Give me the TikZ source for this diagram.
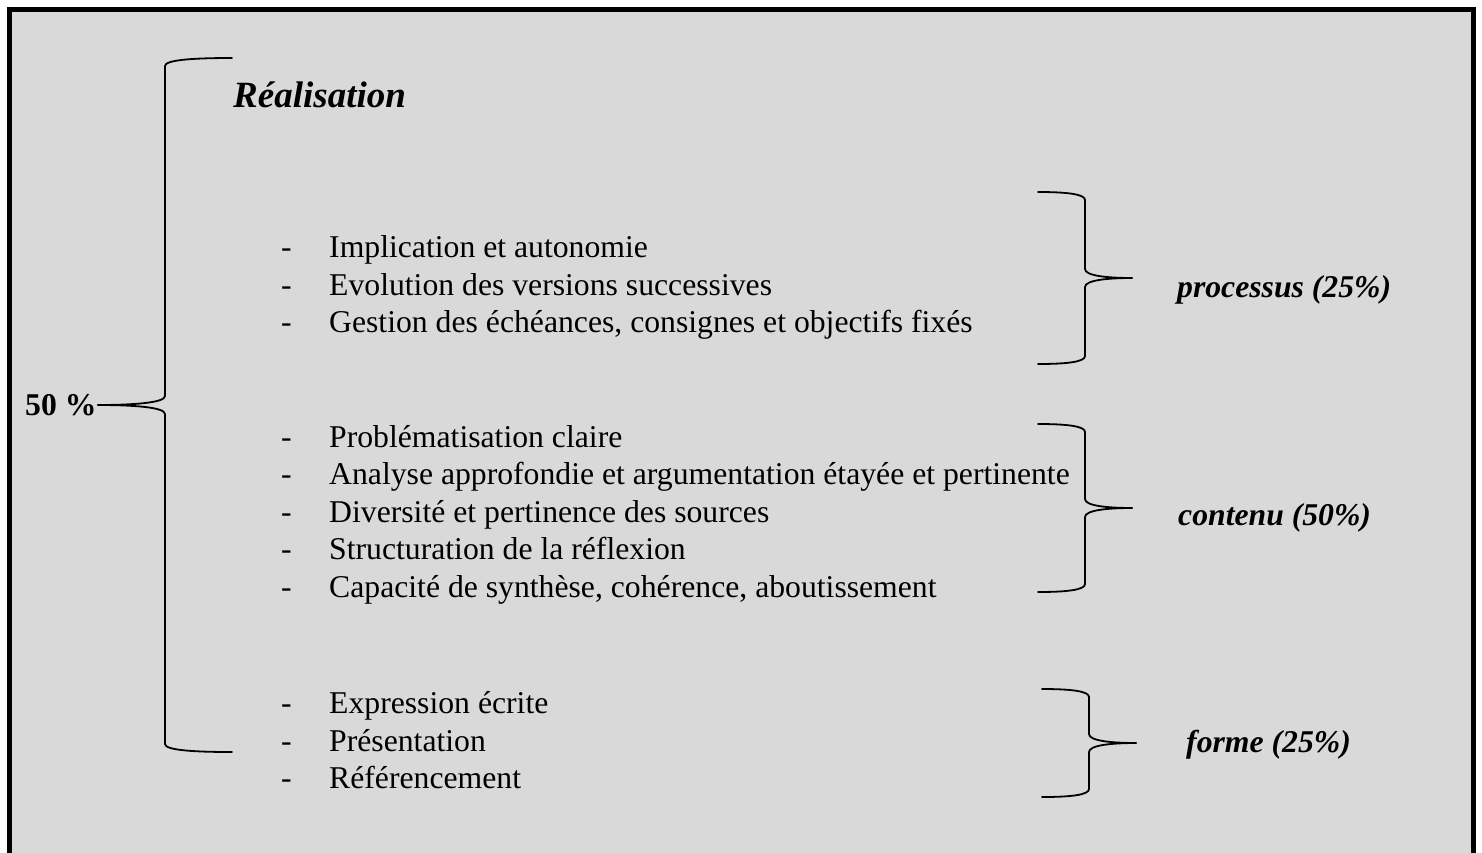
\documentclass[tikz,border=0pt]{standalone}
\usepackage{fontspec}
\setmainfont{Liberation Serif}
\definecolor{fond}{HTML}{D9D9D9}
\newcommand{\accolade}[4]{\begin{scope}[shift={#1},xscale=#2]
  \draw[brace line] (0,0) .. controls (-0.5*#4,0) and (-#4,-2) .. (-#4,-9)
    -- (-#4,-#3+8) .. controls (-#4,-#3+2) and (-1.4*#4,-#3) .. (-2*#4,-#3);
  \draw[brace line] (0,0) .. controls (-0.5*#4,0) and (-#4,2) .. (-#4,9)
    -- (-#4,#3-8) .. controls (-#4,#3-2) and (-1.4*#4,#3) .. (-2*#4,#3);\end{scope}}

\begin{document}
\begin{tikzpicture}[x=1pt,y=-1pt,
  txt/.style={inner sep=0pt,anchor=base west,font=\fontsize{31.7}{37}\selectfont},
  lbl/.style={txt,font=\fontsize{31.7}{37}\selectfont\bfseries\itshape},
  brace line/.style={line width=1.8pt,line cap=round}]
\clip (0,0) rectangle (1482,852);
\draw[line width=5pt,fill=fond] (9.5,9.5) rectangle (1473.5,880);
\node[txt,font=\fontsize{37}{44}\selectfont\bfseries\itshape] (titre) at (233,107) {Réalisation};
\node[txt,font=\fontsize{31.7}{37}\selectfont\bfseries] (total) at (25,415) {50 \%};
% criteres
\foreach \n/\y/\t in {1/257/Implication et autonomie,
    2/295/Evolution des versions successives,
    3/332/{Gestion des échéances, consignes et objectifs fixés},
    4/447/Problématisation claire,
    5/484/Analyse approfondie et argumentation étayée et pertinente,
    6/522/Diversité et pertinence des sources,
    7/559/Structuration de la réflexion,
    8/597/{Capacité de synthèse, cohérence, aboutissement},
    9/713/Expression écrite,
    10/751/Présentation,
    11/788/Référencement}
{\node[txt] (tiret\n) at (281,\y) {-};
 \node[txt] (item\n) at (329,\y) {\t};}
\node[lbl] (processus) at (1177,297) {processus (25\%)};
\node[lbl] (contenu) at (1178,525) {contenu (50\%)};
\node[lbl] (forme) at (1186,752) {forme (25\%)};
% accolades
\coordinate (pointe0) at (98,405);
\coordinate (pointe1) at (1132,278);
\coordinate (pointe2) at (1132,508);
\coordinate (pointe3) at (1136,743);
\accolade{(pointe0)}{-1}{347}{67}
\accolade{(pointe1)}{1}{86}{47}
\accolade{(pointe2)}{1}{84}{47}
\accolade{(pointe3)}{1}{54}{47}
\end{tikzpicture}
\end{document}
